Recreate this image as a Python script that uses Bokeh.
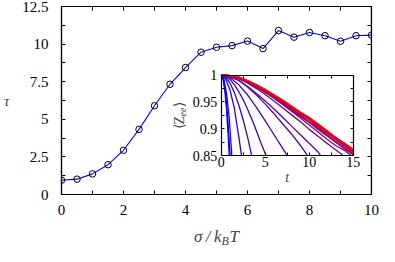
import math
from bokeh.plotting import figure
from bokeh.layouts import column
from bokeh.models import LinearAxis, FixedTicker, Range1d, Label, CustomJSTickFormatter
from bokeh.embed import file_html
from bokeh.resources import INLINE

# ---- main data ----
sigma = [0, 0.5, 1, 1.5, 2, 2.5, 3, 3.5, 4, 4.5, 5, 5.5, 6, 6.5, 7, 7.5, 8, 8.5, 9, 9.5, 10]
tau = [0.95, 1.02, 1.37, 1.98, 2.94, 4.33, 5.9, 7.33, 8.44, 9.46, 9.79, 9.9, 10.2, 9.7,
       10.9, 10.46, 10.77, 10.56, 10.19, 10.56, 10.6]

main_x_ticks = [0, 2, 4, 6, 8, 10]
main_x_minor = [1, 3, 5, 7, 9]
main_y_ticks = [0, 2.5, 5, 7.5, 10, 12.5]
main_y_minor = [1.25, 3.75, 6.25, 8.75, 11.25]

inset_x_ticks = [0, 5, 10, 15]
inset_x_minor = [2.5, 7.5, 12.5]
inset_y_ticks = [0.85, 0.9, 0.95, 1.0]
inset_y_minor = [0.875, 0.925, 0.975]

# ---- inset data: <Z_ee>(t), one curve per sigma ----
t_s00 = [0, 0.2, 0.4, 0.6, 0.8, 0.9]
z_s00 = [1.0, 0.993, 0.972, 0.935, 0.883, 0.85]
t_s05 = [0, 0.25, 0.5, 0.75, 1.0]
z_s05 = [1.0, 0.991, 0.963, 0.917, 0.85]
t_s10 = [0, 0.3, 0.6, 0.9, 1.2]
z_s10 = [1.0, 0.992, 0.966, 0.921, 0.85]
t_s15 = [0, 0.5, 1.0, 1.5, 2.0, 2.3]
z_s15 = [1.0, 0.993, 0.972, 0.937, 0.884, 0.85]
t_s20 = [0, 0.5, 1, 1.5, 2, 2.5, 3, 3.45]
z_s20 = [1.0, 0.996, 0.985, 0.967, 0.944, 0.916, 0.884, 0.85]
t_s25 = [0, 0.5, 1, 1.5, 2, 2.5, 3, 3.5, 4, 4.5, 5.1]
z_s25 = [1.0, 0.998, 0.992, 0.982, 0.969, 0.954, 0.936, 0.917, 0.896, 0.874, 0.85]
t_s30 = [0, 1, 2, 3, 4, 5, 6, 7, 7.5]
z_s30 = [1.0, 0.995, 0.982, 0.963, 0.94, 0.915, 0.889, 0.863, 0.85]
t_s35 = [0, 1, 2, 3, 4, 5, 6, 7, 8, 9, 9.8]
z_s35 = [1.0, 0.997, 0.99, 0.978, 0.963, 0.946, 0.928, 0.909, 0.89, 0.869, 0.85]
t_s40 = [0, 1, 2, 3, 4, 5, 6, 7, 8, 9, 10, 11, 11.3]
z_s40 = [1.0, 0.997, 0.99, 0.979, 0.966, 0.952, 0.937, 0.921, 0.905, 0.889, 0.873, 0.857, 0.85]
t_s45 = [0, 1, 2, 3, 4, 5, 6, 7, 8, 9, 10, 11, 12, 13, 13.9]
z_s45 = [1.0, 0.998, 0.993, 0.985, 0.975, 0.964, 0.952, 0.939, 0.926, 0.913, 0.899, 0.886, 0.873, 0.861, 0.85]
t_s50 = [0, 1, 2, 3, 4, 5, 6, 7, 8, 9, 10, 11, 12, 13, 14, 14.8]
z_s50 = [1.0, 0.999, 0.994, 0.987, 0.978, 0.968, 0.957, 0.945, 0.933, 0.92, 0.907, 0.894, 0.881, 0.869, 0.86, 0.85]
t_long = [0, 1, 2, 3, 4, 5, 6, 7, 8, 9, 10, 11, 12, 13, 14, 15]
z_s55 = [1.0, 0.999, 0.995, 0.987, 0.978, 0.968, 0.958, 0.947, 0.935, 0.923, 0.912, 0.899, 0.887, 0.875, 0.863, 0.852]
z_s60 = [1.0, 0.999, 0.995, 0.988, 0.98, 0.97, 0.96, 0.95, 0.938, 0.927, 0.917, 0.903, 0.892, 0.88, 0.868, 0.857]
z_s65 = [1.0, 0.999, 0.995, 0.988, 0.979, 0.969, 0.959, 0.948, 0.936, 0.925, 0.913, 0.902, 0.889, 0.877, 0.865, 0.854]
z_s70 = [1.0, 0.999, 0.996, 0.989, 0.981, 0.972, 0.963, 0.953, 0.942, 0.931, 0.921, 0.909, 0.896, 0.884, 0.873, 0.861]
z_s75 = [1.0, 0.999, 0.996, 0.989, 0.98, 0.971, 0.961, 0.951, 0.94, 0.929, 0.918, 0.906, 0.894, 0.882, 0.87, 0.858]
z_s80 = [1.0, 0.999, 0.996, 0.989, 0.981, 0.972, 0.962, 0.952, 0.941, 0.93, 0.92, 0.908, 0.895, 0.883, 0.872, 0.86]
z_s85 = [1.0, 0.999, 0.996, 0.99, 0.982, 0.973, 0.963, 0.952, 0.941, 0.93, 0.918, 0.907, 0.896, 0.884, 0.871, 0.86]
z_s90 = [1.0, 0.999, 0.996, 0.989, 0.981, 0.972, 0.962, 0.951, 0.94, 0.93, 0.919, 0.906, 0.894, 0.883, 0.872, 0.859]
z_s95 = [1.0, 0.999, 0.996, 0.99, 0.982, 0.973, 0.963, 0.953, 0.942, 0.931, 0.92, 0.909, 0.897, 0.884, 0.873, 0.862]
z_s100 = [1.0, 0.999, 0.996, 0.989, 0.981, 0.972, 0.962, 0.952, 0.941, 0.93, 0.919, 0.907, 0.895, 0.883, 0.872, 0.861]

inset_curves = [
    (t_s00, z_s00), (t_s05, z_s05), (t_s10, z_s10), (t_s15, z_s15), (t_s20, z_s20),
    (t_s25, z_s25), (t_s30, z_s30), (t_s35, z_s35), (t_s40, z_s40), (t_s45, z_s45),
    (t_s50, z_s50), (t_long, z_s55), (t_long, z_s60), (t_long, z_s65), (t_long, z_s70),
    (t_long, z_s75), (t_long, z_s80), (t_long, z_s85), (t_long, z_s90), (t_long, z_s95),
    (t_long, z_s100),
]

FONT = "Liberation Serif"
W = 379
ML, MR = 58, 8

p = figure(width=W, height=226, output_backend="svg", toolbar_location=None,
           x_range=Range1d(0, 10), y_range=Range1d(0, 12.5),
           x_axis_location=None, y_axis_location=None,
           min_border_left=ML, min_border_right=MR, min_border_top=6, min_border_bottom=32)
p.outline_line_color = "black"
p.outline_line_width = 1.2
p.background_fill_color = "white"
p.border_fill_color = "white"
p.grid.visible = False
p.extra_x_ranges = {"ix": Range1d(-18.17, 17.08)}
p.extra_y_ranges = {"iy": Range1d(0.77768, 1.1279)}

fmt = CustomJSTickFormatter(code="return String(tick);")


def add_axis(side, ticks, minor, loc=None, xr="default", yr="default", labels=True,
             size="14px", standoff=8, tick_len=4, bounds="auto"):
    ax = LinearAxis(ticker=FixedTicker(ticks=ticks, minor_ticks=minor),
                    x_range_name=xr, y_range_name=yr, bounds=bounds, formatter=fmt)
    if loc is not None:
        ax.fixed_location = loc
    ax.major_tick_in = tick_len
    ax.major_tick_out = 0
    ax.minor_tick_in = tick_len
    ax.minor_tick_out = 0
    ax.axis_line_color = "black"
    ax.axis_line_width = 1.2
    ax.major_tick_line_color = "black"
    ax.minor_tick_line_color = "black"
    ax.major_label_text_font = FONT
    ax.major_label_text_color = "black"
    ax.major_label_standoff = standoff
    if labels:
        ax.major_label_text_font_size = size
    else:
        ax.major_label_text_font_size = "0px"
        ax.major_label_text_alpha = 0
    p.add_layout(ax, side)
    return ax


# main axes (mirrored ticks on all sides)
add_axis("below", main_x_ticks, main_x_minor, standoff=10, size="15px")
yl = add_axis("left", main_y_ticks, main_y_minor, standoff=13, size="15px")
yl.axis_label = "τ"
yl.axis_label_orientation = "horizontal"
yl.axis_label_text_font = FONT
yl.axis_label_text_font_style = "italic"
yl.axis_label_text_font_size = "15px"
yl.axis_label_standoff = 10
add_axis("above", main_x_ticks, main_x_minor, loc=12.5, labels=False)
add_axis("right", main_y_ticks, main_y_minor, loc=10, labels=False)

# main data
p.line(sigma, tau, line_color="#0000ff", line_width=1.1)
p.scatter(sigma, tau, marker="circle", size=6.5, fill_color=None, line_color="black", line_width=1)

# inset curves
n = len(inset_curves)
for i, (tt, zz) in enumerate(inset_curves):
    f = i / (n - 1)
    col = "#%02x%02x%02x" % (int(round(255 * f)), 0, int(round(255 * (1 - f))))
    p.line(tt, zz, x_range_name="ix", y_range_name="iy", line_color=col, line_width=1.3)

# inset axes
add_axis("below", inset_x_ticks, inset_x_minor, loc=0.85, xr="ix", yr="iy", size="14px",
         standoff=1, tick_len=3, bounds=(0, 15))
add_axis("left", inset_y_ticks, inset_y_minor, loc=0, xr="ix", yr="iy", size="14px",
         standoff=4, tick_len=3, bounds=(0.85, 1.0))
add_axis("above", inset_x_ticks, inset_x_minor, loc=1.0, xr="ix", yr="iy", labels=False,
         tick_len=3, bounds=(0, 15))
add_axis("right", inset_y_ticks, inset_y_minor, loc=15, xr="ix", yr="iy", labels=False,
         tick_len=3, bounds=(0.85, 1.0))

# inset titles
p.add_layout(Label(x=7.5, y=0.85, x_range_name="ix", y_range_name="iy", y_offset=-22,
                   text="t", text_font=FONT, text_font_style="italic", text_font_size="14px",
                   text_align="center", text_baseline="middle"))
zx = -42
p.add_layout(Label(x=0, y=0.925, x_range_name="ix", y_range_name="iy", x_offset=zx,
                   y_offset=-14, text="⟨Z", text_font=FONT, text_font_size="14px",
                   angle=math.pi / 2, text_align="left", text_baseline="middle"))
p.add_layout(Label(x=0, y=0.925, x_range_name="ix", y_range_name="iy", x_offset=zx + 3,
                   y_offset=-1, text="ee", text_font=FONT, text_font_style="italic",
                   text_font_size="10px", angle=math.pi / 2, text_align="left",
                   text_baseline="middle"))
p.add_layout(Label(x=0, y=0.925, x_range_name="ix", y_range_name="iy", x_offset=zx,
                   y_offset=8, text="⟩", text_font=FONT, text_font_size="14px",
                   angle=math.pi / 2, text_align="left", text_baseline="middle"))

# strip below with the x-axis title
s = figure(width=W, height=20, output_backend="svg", toolbar_location=None,
           x_range=Range1d(0, 10), y_range=Range1d(0, 1),
           x_axis_location=None, y_axis_location=None,
           min_border_left=ML, min_border_right=MR, min_border_top=0, min_border_bottom=0)
s.outline_line_color = None
s.grid.visible = False
s.background_fill_color = "white"
s.border_fill_color = "white"
s.add_layout(Label(x=5, y=0.5, x_offset=5, text="σ\u2009/\u2009k", text_font=FONT,
                   text_font_style="italic", text_font_size="17px",
                   text_align="right", text_baseline="middle"))
s.add_layout(Label(x=5, y=0.5, x_offset=5, y_offset=-4, text="B", text_font=FONT,
                   text_font_style="italic", text_font_size="12px",
                   text_align="left", text_baseline="middle"))
s.add_layout(Label(x=5, y=0.5, x_offset=13, text="T", text_font=FONT,
                   text_font_style="italic", text_font_size="17px",
                   text_align="left", text_baseline="middle"))

open("out.html", "w").write(file_html(column(p, s), INLINE))
